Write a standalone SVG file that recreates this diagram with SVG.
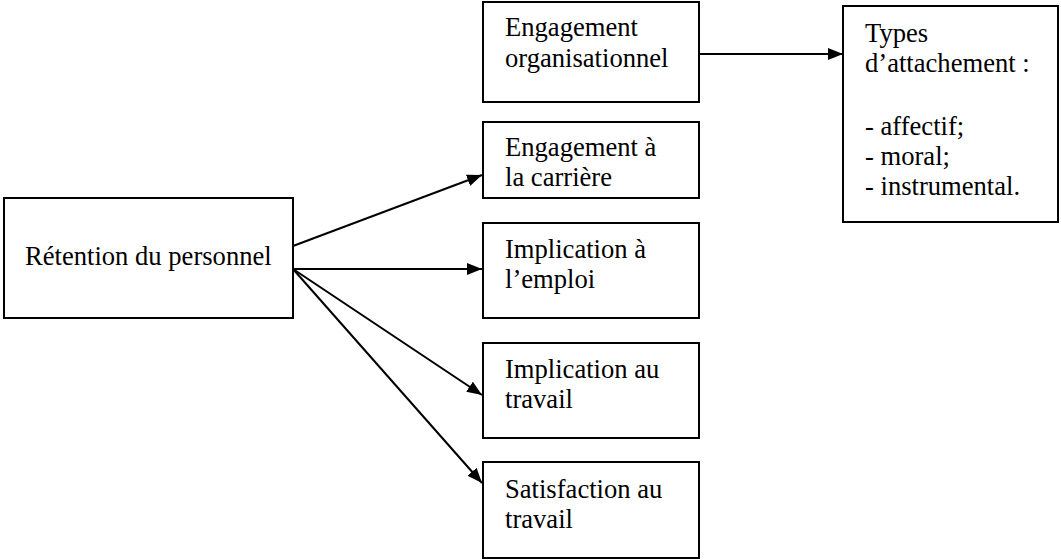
<svg xmlns="http://www.w3.org/2000/svg" width="1061" height="560" viewBox="0 0 1061 560">
<defs>
<style>
rect{fill:#fff;stroke:#000;stroke-width:2}
text{font-family:"Liberation Serif","Times New Roman",serif;font-size:26.6px;fill:#000}
.c line{stroke:#000;stroke-width:2;marker-end:url(#ah)}
</style>
<marker id="ah" markerWidth="15" markerHeight="12" refX="15" refY="6" orient="auto" markerUnits="userSpaceOnUse" viewBox="0 0 15 12">
<path d="M0,0 L15,6 L0,12 Z" fill="#000"/>
</marker>
</defs>
<rect x="0" y="0" width="1061" height="560" style="fill:#fff;stroke:none"/>
<g id="retention"><rect x="4" y="198" width="289" height="120"/><text x="25" y="265">Rétention du personnel</text></g>
<g id="eng-org"><rect x="483" y="2" width="216" height="100"/><text x="505" y="36">Engagement</text><text x="505" y="67">organisationnel</text></g>
<g id="eng-car"><rect x="483" y="122" width="216" height="76"/><text x="505" y="156">Engagement à</text><text x="505" y="186">la carrière</text></g>
<g id="impl-emp"><rect x="483" y="223" width="216" height="95"/><text x="505" y="258">Implication à</text><text x="505" y="288">l’emploi</text></g>
<g id="impl-trav"><rect x="483" y="343" width="216" height="95"/><text x="505" y="378">Implication au</text><text x="505" y="408">travail</text></g>
<g id="satis"><rect x="483" y="462" width="216" height="96"/><text x="505" y="498">Satisfaction au</text><text x="505" y="528">travail</text></g>
<g id="types"><rect x="843" y="6" width="215" height="216"/><text x="865" y="42">Types</text><text x="865" y="72">d’attachement :</text><text x="865" y="135">- affectif;</text><text x="865" y="165">- moral;</text><text x="865" y="195">- instrumental.</text></g>
<g class="c" id="connectors">
<line x1="699" y1="54" x2="843" y2="54"/>
<line x1="293" y1="246" x2="482" y2="175"/>
<line x1="293" y1="269" x2="482" y2="269"/>
<line x1="293" y1="269" x2="482" y2="395"/>
<line x1="293" y1="269" x2="482" y2="483"/>
</g>
</svg>
